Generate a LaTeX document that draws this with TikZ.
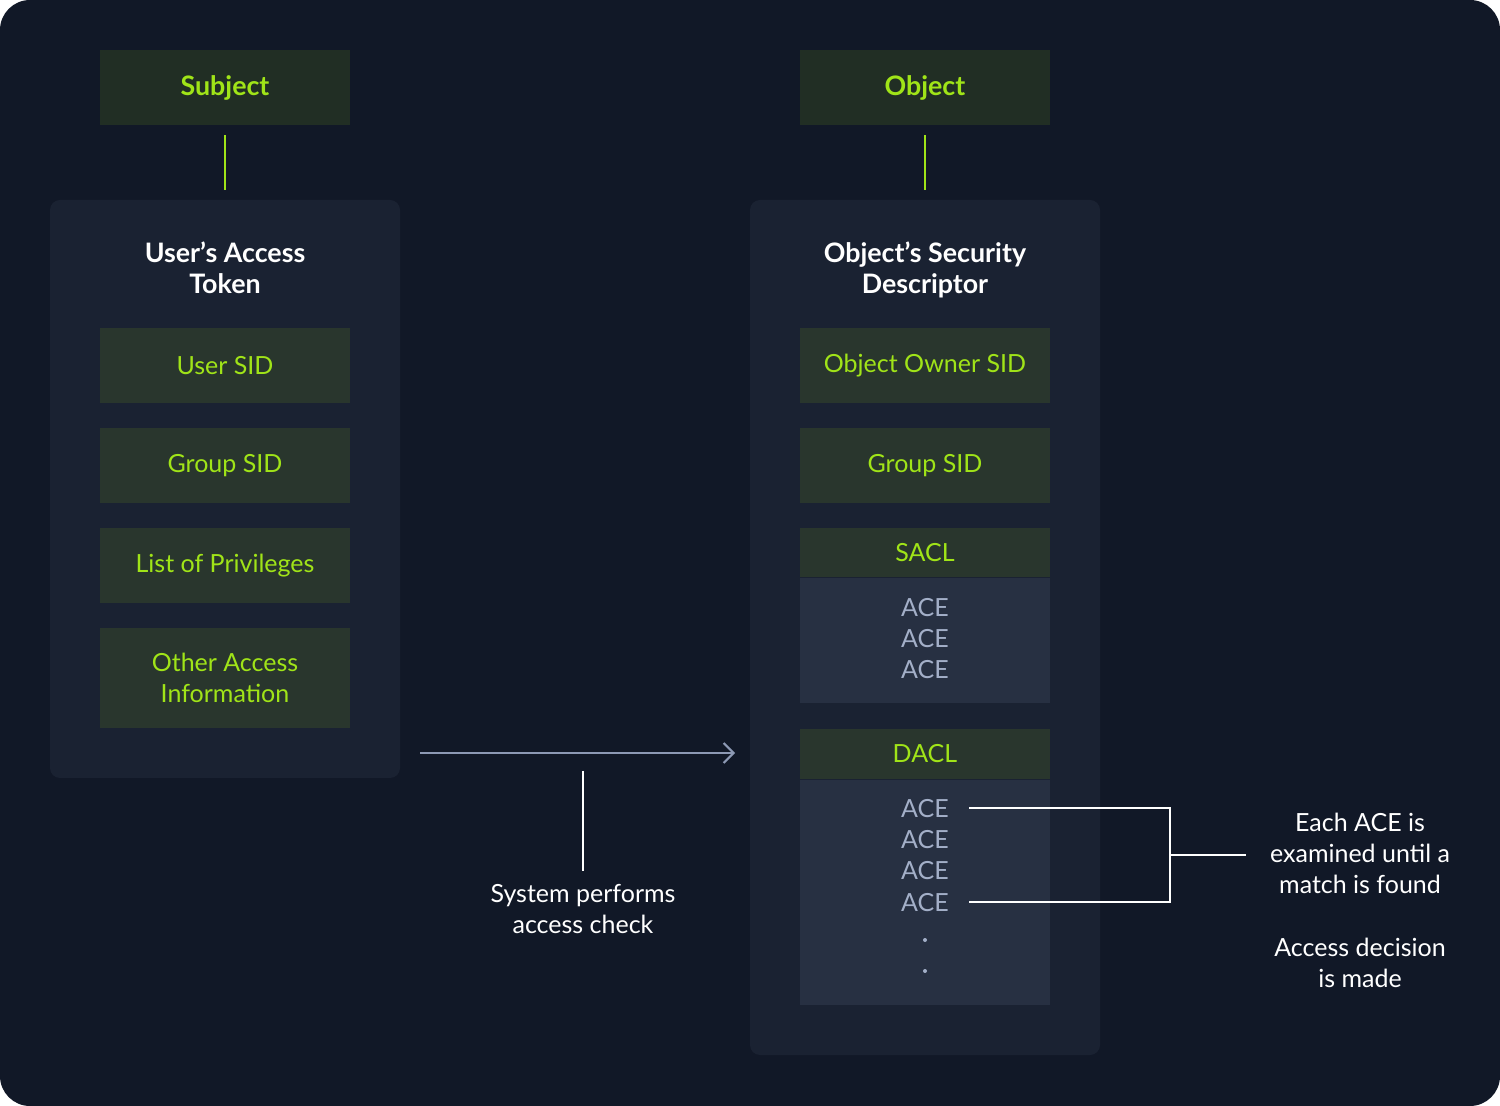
\documentclass[tikz,border=0pt]{standalone}
\usepackage{fontspec}
\setmainfont{Lato}
\usetikzlibrary{arrows.meta}
\definecolor{bgc}{HTML}{111827}
\definecolor{panelc}{HTML}{1A2232}
\definecolor{headc}{HTML}{212E24}
\definecolor{itemc}{HTML}{29362D}
\definecolor{acec}{HTML}{273042}
\definecolor{greenc}{HTML}{A0E418}
\definecolor{acetxt}{HTML}{A3AFC8}
\definecolor{arrowc}{HTML}{8D99B4}
\tikzset{
  txt/.style={font=\fontsize{12.5}{15.5}\selectfont, align=center, inner sep=0pt},
  headbox/.style={fill=headc, text=greenc, minimum width=125pt, minimum height=37.5pt, inner sep=0pt, font=\fontsize{13.4}{15.5}\selectfont\bfseries},
  itembox/.style={fill=itemc, text=greenc, minimum width=125pt, inner sep=0pt, align=center, font=\fontsize{12.5}{15.5}\selectfont},
  acebox/.style={fill=acec, minimum width=125pt, inner sep=0pt},
  panel/.style={fill=panelc, rounded corners=5pt, minimum width=175pt, inner sep=0pt},
  title/.style={text=white, align=center, inner sep=0pt, font=\fontsize{13.4}{15.5}\selectfont\bfseries},
  acetext/.style={txt, text=acetxt},
  wtext/.style={txt, text=white},
  gline/.style={draw=greenc, line width=1pt},
  wline/.style={draw=white, line width=1pt},
}
\begin{document}
\begin{tikzpicture}[x=0.5pt, y=-0.5pt]
\useasboundingbox (0,0) rectangle (1500,1106);
\fill[white] (0,0) rectangle (1500,1106);
\fill[bgc, rounded corners=15pt] (0,0) rectangle (1500,1106);

% left column
\node[headbox] (subj) at (225,87.5) {Subject};
\node[panel, minimum height=289pt] (lpanel) at (225,489) {};
\draw[gline, shorten <=5pt, shorten >=5pt] (subj) -- (subj |- lpanel.north);
\node[title] (ltitle) at (225,268) {User’s Access\\Token};
\node[itembox, minimum height=37.5pt] (usid) at (225,365.5) {User SID};
\node[itembox, minimum height=37.5pt] (gsid) at (225,465.5) {Group SID};
\node[itembox, minimum height=37.5pt] (priv) at (225,565.5) {List of Privileges};
\node[itembox, minimum height=50pt] (other) at (225,678) {Other Access\\Information};

% right column
\node[headbox] (obj) at (925,87.5) {Object};
\node[panel, minimum height=427.5pt] (rpanel) at (925,627.5) {};
\draw[gline, shorten <=5pt, shorten >=5pt] (obj) -- (obj |- rpanel.north);
\node[title] (rtitle) at (925,270) {Object’s Security\\Descriptor};
\node[itembox, minimum height=37.5pt] (osid) at (925,365.5) {Object Owner SID};
\node[itembox, minimum height=37.5pt] (ogsid) at (925,465.5) {Group SID};
\node[itembox, minimum height=24.5pt] (sacl) at (925,552.5) {SACL};
\node[acebox, minimum height=62.5pt, anchor=north] (sacea) at (sacl.south) {};
\node[acetext] (s1) at (925,608) {ACE};
\node[acetext] (s2) at (925,639) {ACE};
\node[acetext] (s3) at (925,670) {ACE};
\node[itembox, minimum height=25pt] (dacl) at (925,754) {DACL};
\node[acebox, minimum height=112.5pt, anchor=north] (dacea) at (dacl.south) {};
\node[acetext] (d1) at (925,809) {ACE};
\node[acetext] (d2) at (925,840) {ACE};
\node[acetext] (d3) at (925,871) {ACE};
\node[acetext] (d4) at (925,903) {ACE};
\fill[acetxt] (925,940) circle (1pt);
\fill[acetxt] (925,971) circle (1pt);

% access check arrow
\coordinate (a1) at (420,753);
\coordinate (a2) at (735,753);
\draw[draw=arrowc, line width=1pt, -{Straight Barb[length=5pt,width=10pt]}] (a1) -- (a2);
\coordinate (v1) at (583,771);
\coordinate (v2) at (583,871);
\draw[wline] (v1) -- (v2);
\node[wtext] (check) at (583,909) {System performs\\access check};

% bracket
\coordinate (b1) at (969,808);
\coordinate (b2) at (1170,808);
\coordinate (b3) at (1170,902);
\coordinate (b4) at (969,902);
\coordinate (bm) at (1170,855);
\coordinate (be) at (1246,855);
\draw[wline] (b1) -- (b2) -- (b3) -- (b4);
\draw[wline] (bm) -- (be);
\node[wtext] (each) at (1360,853) {Each ACE is\\examined until a\\match is found};
\node[wtext] (dec) at (1360,962.5) {Access decision\\is made};
\end{tikzpicture}
\end{document}
